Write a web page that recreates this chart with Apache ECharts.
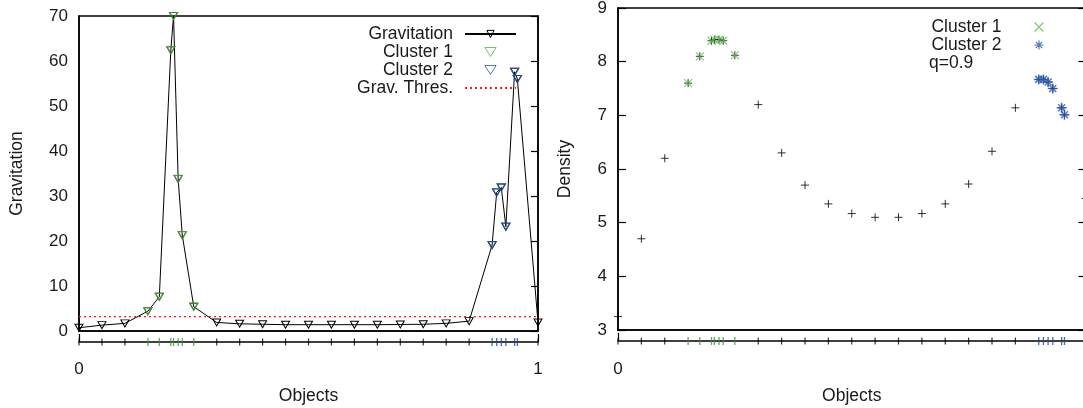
<!DOCTYPE html>
<html><head><meta charset="utf-8">
<script src="https://cdn.jsdelivr.net/npm/echarts@6/dist/echarts.min.js"></script>
<style>html,body{margin:0;padding:0;background:#fff}#c{width:1083px;height:408px}</style>
</head><body><div id="c"></div>
<script>
// ---- data ----
const objectPos = [0, 0.05, 0.1, 0.15, 0.175, 0.2, 0.206, 0.216, 0.225, 0.25,
  0.3, 0.35, 0.4, 0.45, 0.5, 0.55, 0.6, 0.65, 0.7, 0.75, 0.8, 0.85,
  0.9, 0.91, 0.92, 0.93, 0.949, 0.955, 1];
const gravitation = [0.73, 1.3, 1.7, 4.4, 7.6, 62.4, 70, 33.8, 21.3, 5.4,
  1.9, 1.6, 1.5, 1.4, 1.4, 1.4, 1.4, 1.4, 1.45, 1.5, 1.7, 2.2,
  19.1, 30.8, 31.9, 23.2, 57.6, 56.0, 1.9];
const density = [3.25, 4.70, 6.20, 7.60, 8.10, 8.39, 8.41, 8.41, 8.39, 8.12,
  7.20, 6.30, 5.70, 5.35, 5.17, 5.10, 5.10, 5.17, 5.35, 5.72, 6.33, 7.14,
  7.67, 7.67, 7.62, 7.50, 7.14, 7.01, 5.45];
const clusterId = [0, 0, 0, 1, 1, 1, 1, 1, 1, 1,
  0, 0, 0, 0, 0, 0, 0, 0, 0, 0, 0, 0,
  2, 2, 2, 2, 2, 2, 0];
const gravThreshold = 3.2;
const gravTicks = [0, 10, 20, 30, 40, 50, 60, 70];
const densityTicks = [3, 4, 5, 6, 7, 8, 9];
const objectTicks = [0, 1];
const qLabel = 'q=0.9';

// ---- helpers ----
const FONT = "'Liberation Sans', Arial, Helvetica, sans-serif";
const TXT = '#1a1a1a';
const pick = (vals, c) => objectPos.map((x, i) => [x, vals[i], clusterId[i]])
  .filter(p => c === undefined || p[2] === c).map(p => [p[0], p[1]]);
const rug = c => objectPos.filter((x, i) => clusterId[i] === c).map(x => [x, 0]);
const ZW = '\u200b';
const TRI = 'path://M0,0L10,0L5,8Z';
const PLUS = 'path://M5,0V10M0,5H10';
const CROSS = 'path://M0,0L10,10M10,0L0,10';
const STAR = 'path://M5,0V10M0,5H10M1.5,1.5L8.5,8.5M8.5,1.5L1.5,8.5';
const GREEN_TRI = '#5aad47', BLUE_TRI = '#2b58a6';
const GREEN_X = '#5cbf48', BLUE_STAR = '#2a56aa';
const GREEN_RUG = '#3d8f3d', BLUE_RUG = '#23448c';

function valAxis(gridIndex, ticks, extra) {
  return Object.assign({
    type: 'value', gridIndex,
    min: ticks[0], max: ticks[ticks.length - 1], interval: ticks[1] - ticks[0],
    splitLine: { show: false },
    axisLine: { show: true, lineStyle: { color: '#000', width: 1.5 } },
    axisTick: { show: false },
    axisLabel: { show: false, color: TXT, fontSize: 17, fontFamily: FONT }
  }, extra || {});
}
const nameStyle = { color: TXT, fontSize: 17.5, fontFamily: FONT };
const legendText = { color: TXT, fontSize: 17.5, lineHeight: 18, fontFamily: FONT, padding: [0, 7, 0, 0] };

const chart = echarts.init(document.getElementById('c'), null, { renderer: 'canvas' });
chart.setOption({
  animation: false,
  backgroundColor: '#fff',
  textStyle: { fontFamily: FONT },
  title: {
    text: qLabel, left: 929, top: 54, padding: 0,
    textStyle: { fontSize: 17.5, fontWeight: 'normal', color: TXT, fontFamily: FONT }
  },
  grid: [
    { left: 79, top: 16, width: 459, height: 315, show: true, borderColor: '#000', borderWidth: 1.5, backgroundColor: 'transparent', outerBoundsMode: 'none' },
    { left: 79, top: 342, width: 459, height: 8, outerBoundsMode: 'none' },
    { left: 618, top: 8, width: 467.5, height: 322, show: true, borderColor: '#000', borderWidth: 1.5, backgroundColor: 'transparent', outerBoundsMode: 'none' },
    { left: 618, top: 341, width: 467.5, height: 8, outerBoundsMode: 'none' }
  ],
  xAxis: [
    valAxis(0, objectTicks),
    valAxis(1, objectTicks, {
      axisTick: { show: true, inside: true, length: 8, lineStyle: { color: '#000', width: 1.2 } },
      axisLabel: { show: true, margin: 11, color: TXT, fontSize: 17, fontFamily: FONT },
      name: 'Objects', nameLocation: 'middle', nameGap: 37, nameTextStyle: nameStyle
    }),
    valAxis(2, objectTicks),
    valAxis(3, objectTicks, {
      axisTick: { show: true, inside: true, length: 8, lineStyle: { color: '#000', width: 1.2 } },
      axisLabel: { show: true, margin: 12, showMaxLabel: false, color: TXT, fontSize: 17, fontFamily: FONT },
      name: 'Objects', nameLocation: 'middle', nameGap: 38, nameTextStyle: nameStyle
    })
  ],
  yAxis: [
    valAxis(0, gravTicks, {
      axisLabel: { show: true, margin: 11, color: TXT, fontSize: 17, fontFamily: FONT },
      name: 'Gravitation', nameLocation: 'middle', nameGap: 53, nameTextStyle: nameStyle
    }),
    valAxis(0, gravTicks, {
      position: 'right',
      axisTick: { show: true, inside: true, length: 7, lineStyle: { color: '#000', width: 1.2 } }
    }),
    { type: 'value', gridIndex: 1, min: -1, max: 0, show: false },
    valAxis(2, densityTicks, {
      axisTick: { show: true, inside: true, length: 8, lineStyle: { color: '#000', width: 1.2 } },
      axisLabel: { show: true, margin: 11, color: TXT, fontSize: 17, fontFamily: FONT },
      name: 'Density', nameLocation: 'middle', nameGap: 44, nameTextStyle: nameStyle
    }),
    valAxis(2, densityTicks, {
      position: 'right',
      axisTick: { show: true, inside: true, length: 7, lineStyle: { color: '#000', width: 1.2 } }
    }),
    { type: 'value', gridIndex: 3, min: -1, max: 0, show: false }
  ],
  legend: [
    {
      orient: 'vertical', right: 566, top: 25, padding: 0, align: 'right',
      itemWidth: 51, itemHeight: 9, itemGap: 0, selectedMode: false,
      symbolKeepAspect: true, itemStyle: { borderWidth: 1 },
      textStyle: legendText,
      data: ['Gravitation', 'Cluster 1', 'Cluster 2',
        { name: 'Grav. Thres.', itemStyle: { color: 'rgba(0,0,0,0)', borderColor: 'rgba(0,0,0,0)', borderWidth: 0 } }]
    },
    {
      orient: 'vertical', right: 37, top: 18, padding: 0, align: 'right',
      itemWidth: 51, itemHeight: 9, itemGap: 0, selectedMode: false,
      symbolKeepAspect: true, itemStyle: { borderWidth: 1.2 },
      textStyle: legendText,
      formatter: n => n.replace(ZW, ''),
      data: ['Cluster 1' + ZW, 'Cluster 2' + ZW]
    }
  ],
  series: [
    {
      name: 'Grav. Thres.', type: 'line', xAxisIndex: 0, yAxisIndex: 0,
      data: [[objectTicks[0], gravThreshold], [objectTicks[1], gravThreshold]],
      symbol: 'none', lineStyle: { color: '#ff1a1a', width: 1.2, type: [2, 3] }, z: 2
    },
    {
      name: 'Gravitation', type: 'line', xAxisIndex: 0, yAxisIndex: 0,
      data: pick(gravitation), showAllSymbol: true,
      symbol: TRI, symbolSize: [8, 7],
      lineStyle: { color: '#000', width: 1 },
      itemStyle: { color: 'rgba(255,255,255,0)', borderColor: '#000', borderWidth: 1 }, z: 3
    },
    {
      name: 'Cluster 1', type: 'scatter', xAxisIndex: 0, yAxisIndex: 0,
      data: pick(gravitation, 1), symbol: TRI, symbolSize: [8, 7],
      itemStyle: { color: 'rgba(255,255,255,0)', borderColor: GREEN_TRI, borderWidth: 1.3 }, z: 4, clip: false
    },
    {
      name: 'Cluster 2', type: 'scatter', xAxisIndex: 0, yAxisIndex: 0,
      data: pick(gravitation, 2), symbol: TRI, symbolSize: [8, 7],
      itemStyle: { color: 'rgba(255,255,255,0)', borderColor: BLUE_TRI, borderWidth: 1.3 }, z: 4, clip: false
    },
    { name: 'rugL0', type: 'scatter', xAxisIndex: 1, yAxisIndex: 2, data: rug(0), symbol: 'rect', symbolSize: [1.2, 7], itemStyle: { color: '#000' }, clip: false, z: 5 },
    { name: 'rugL1', type: 'scatter', xAxisIndex: 1, yAxisIndex: 2, data: rug(1), symbol: 'rect', symbolSize: [1.3, 8], itemStyle: { color: GREEN_RUG }, clip: false, z: 5 },
    { name: 'rugL2', type: 'scatter', xAxisIndex: 1, yAxisIndex: 2, data: rug(2), symbol: 'rect', symbolSize: [1.3, 8], itemStyle: { color: BLUE_RUG }, clip: false, z: 5 },
    {
      name: 'Density', type: 'scatter', xAxisIndex: 2, yAxisIndex: 3,
      data: pick(density), symbol: PLUS, symbolSize: 8,
      itemStyle: { color: 'none', borderColor: '#000', borderWidth: 1 }, clip: false, z: 3
    },
    {
      name: 'Cluster 1' + ZW, type: 'scatter', xAxisIndex: 2, yAxisIndex: 3,
      data: pick(density, 1), symbol: CROSS, symbolSize: 8,
      itemStyle: { color: 'none', borderColor: GREEN_X, borderWidth: 1.1 }, clip: false, z: 4
    },
    {
      name: 'Cluster 2' + ZW, type: 'scatter', xAxisIndex: 2, yAxisIndex: 3,
      data: pick(density, 2), symbol: STAR, symbolSize: 10,
      itemStyle: { color: 'none', borderColor: BLUE_STAR, borderWidth: 1.5 }, clip: false, z: 4
    },
    { name: 'rugR0', type: 'scatter', xAxisIndex: 3, yAxisIndex: 5, data: rug(0), symbol: 'rect', symbolSize: [1.2, 7], itemStyle: { color: '#000' }, clip: false, z: 5 },
    { name: 'rugR1', type: 'scatter', xAxisIndex: 3, yAxisIndex: 5, data: rug(1), symbol: 'rect', symbolSize: [1.3, 8], itemStyle: { color: GREEN_RUG }, clip: false, z: 5 },
    { name: 'rugR2', type: 'scatter', xAxisIndex: 3, yAxisIndex: 5, data: rug(2), symbol: 'rect', symbolSize: [1.3, 8], itemStyle: { color: BLUE_RUG }, clip: false, z: 5 }
  ]
});
</script></body></html>
